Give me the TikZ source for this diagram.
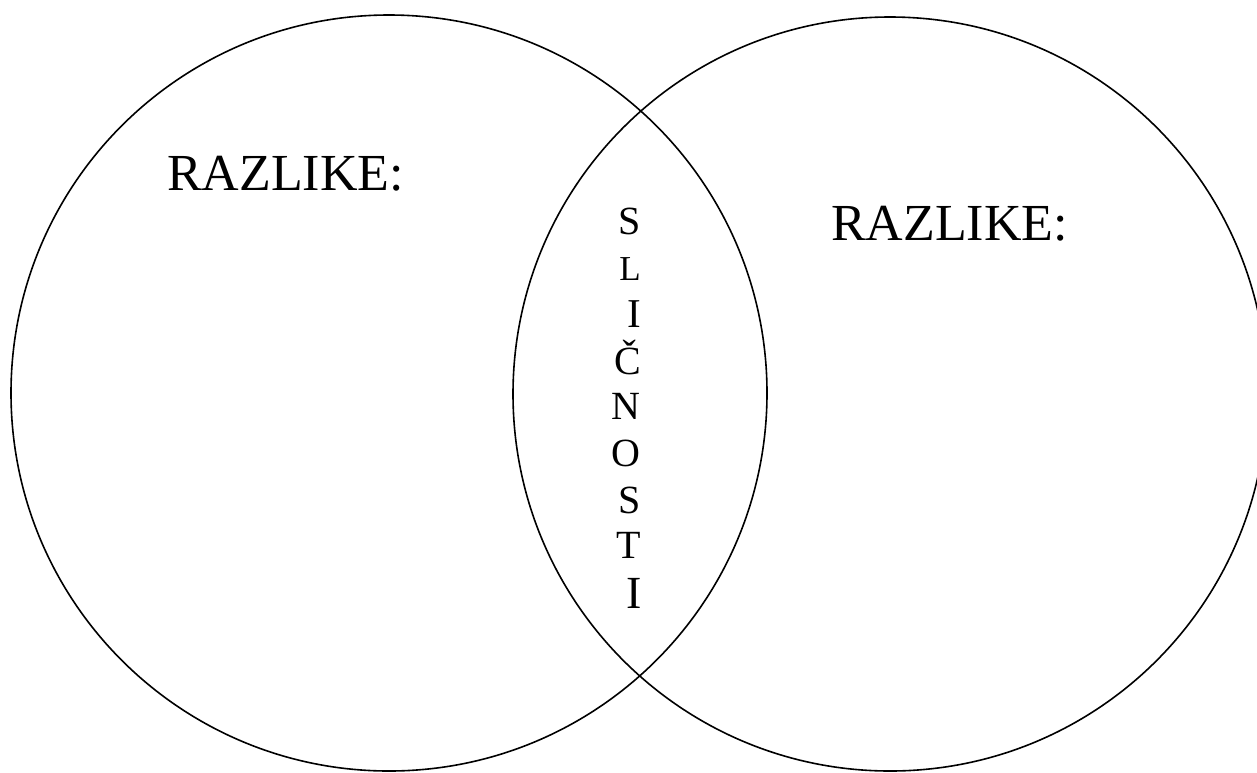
\documentclass[tikz,border=0pt]{standalone}
\usepackage{fontspec}
\setmainfont{Liberation Serif}
\begin{document}
\begin{tikzpicture}[x=1pt,y=-1pt,
  ring/.style={circle,draw=black,line width=1.6pt,inner sep=0pt,minimum size=#1},
  bigtext/.style={inner sep=0pt,anchor=base west,font=\fontsize{52}{60}\selectfont},
  letter/.style={inner sep=0pt,anchor=base east,font=\fontsize{#1}{#1}\selectfont},
  letter/.default=40]
\useasboundingbox (0,0) rectangle (1257,772);
\node[ring=756pt] (left) at (389,393) {};
\node[ring=754pt] (right) at (890,394) {};
\node[bigtext] (t1) at (167,190) {RAZLIKE:};
\node[bigtext] (t2) at (831,240) {RAZLIKE:};
\node[letter] (s1) at (641,234) {S};
\node[letter=35] (s2) at (641,280) {L};
\node[letter=41] (s3) at (641,327) {I};
\node[letter] (s4) at (641,374) {Č};
\node[letter] (s5) at (641,419) {N};
\node[letter] (s6) at (641,466) {O};
\node[letter] (s7) at (641,513) {S};
\node[letter] (s8) at (641,558) {T};
\node[letter=46] (s9) at (642,608) {I};
\end{tikzpicture}
\end{document}
